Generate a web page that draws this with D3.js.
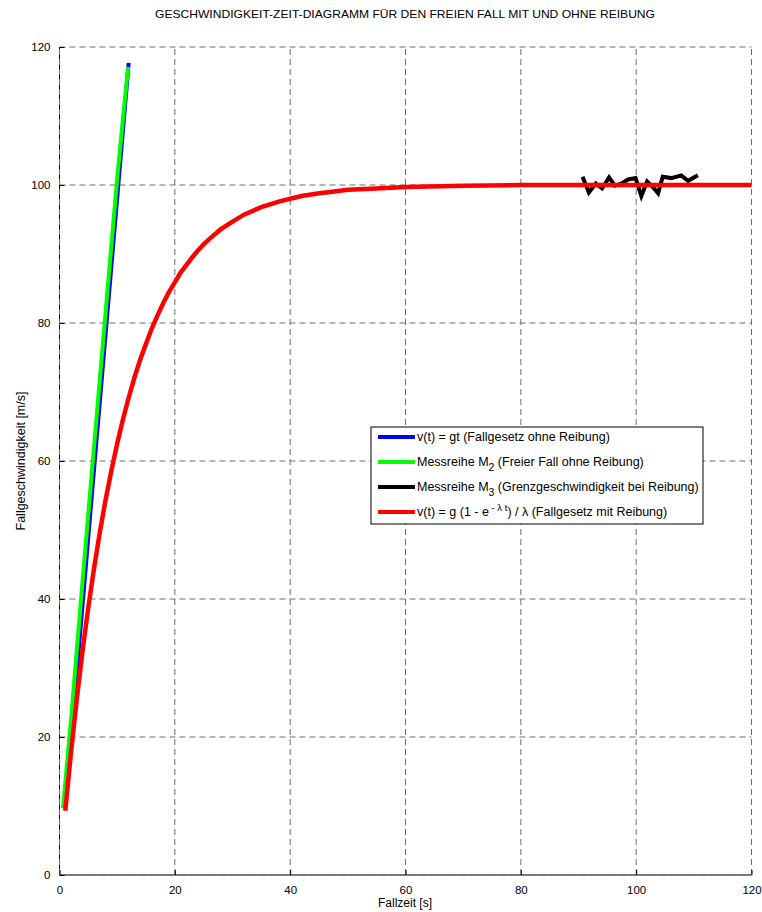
<!DOCTYPE html>
<html>
<head>
<meta charset="utf-8">
<script src="https://cdn.jsdelivr.net/npm/d3@7"></script>
<style>
    body { margin: 0; background: #fff; }
    svg text { font-family: "Liberation Sans", Arial, Helvetica, sans-serif; fill: #000; }
</style>
</head>
<body>
<div id="grafico"></div>
<script>
// Daten
const xTicks = [0, 20, 40, 60, 80, 100, 120];
const yTicks = [0, 20, 40, 60, 80, 100, 120];

// v(t) = g t
const tOhne = [1, 2, 3, 4, 5, 6, 7, 8, 9, 10, 11, 12];
const vOhne = [9.8, 19.6, 29.4, 39.2, 49.1, 58.9, 68.7, 78.5, 88.3, 98.1, 107.9, 117.7];

// Messreihe M2
const tM2 = [0.6, 2, 3, 4, 5, 6, 7, 8, 9, 10, 11, 11.9];
const vM2 = [9.7, 22.5, 32.6, 42.6, 52.4, 62.2, 71.9, 81.6, 91.3, 100.9, 109.6, 117.1];

// Messreihe M3
const tM3 = [90.7, 91.8, 93.0, 94.1, 95.3, 96.3, 97.4, 98.6, 99.9, 100.9, 101.9, 102.9, 103.8, 104.6, 106.1, 107.8, 109.0, 110.7];
const vM3 = [101.2, 98.9, 100.2, 99.5, 101.1, 99.9, 100.2, 100.8, 101.0, 98.4, 100.5, 99.7, 98.8, 101.2, 101.0, 101.4, 100.6, 101.4];

// v(t) = g (1 - e^(-lambda t)) / lambda
const tMit = [1, 2, 3, 4, 5, 6, 7, 8, 9, 10, 11, 12, 13, 14, 15, 16, 17, 18, 19, 20, 21, 22, 23, 24, 25, 26, 28, 30, 32, 35, 38, 40, 42, 45, 47, 50, 55, 60, 70, 80, 90, 100, 110, 120];
const vMit = [9.3, 17.8, 25.5, 32.5, 38.8, 44.5, 49.7, 54.4, 58.6, 62.5, 66.0, 69.2, 72.1, 74.7, 77.0, 79.2, 81.1, 82.9, 84.5, 85.9, 87.3, 88.4, 89.5, 90.5, 91.4, 92.2, 93.6, 94.7, 95.7, 96.8, 97.6, 98.0, 98.4, 98.8, 99.0, 99.3, 99.5, 99.7, 99.9, 100, 100, 100, 100, 100];

const legendLabels = [
    "v(t) = gt (Fallgesetz ohne Reibung)",
    "Messreihe M",
    "Messreihe M",
    "v(t) = g (1 - e"
];
const colors = ["#0000ff", "#00ff00", "#000000", "#ff0000"];

const width = 762, height = 912;
const svg = d3.select("#grafico").append("svg")
    .attr("width", width)
    .attr("height", height);

const x = d3.scaleLinear().domain([0, 120]).range([59.5, 751.5]);
const y = d3.scaleLinear().domain([0, 120]).range([875, 47]);

// Titel
svg.append("text")
    .attr("x", 405)
    .attr("y", 18)
    .attr("text-anchor", "middle")
    .attr("font-size", 11)
    .attr("textLength", 500)
    .attr("lengthAdjust", "spacingAndGlyphs")
    .text("GESCHWINDIGKEIT-ZEIT-DIAGRAMM FÜR DEN FREIEN FALL MIT UND OHNE REIBUNG");

// Achsen (links und unten)
svg.append("line")
    .attr("x1", x(0)).attr("x2", x(0))
    .attr("y1", y(0)).attr("y2", y(120))
    .attr("stroke", "#000").attr("stroke-width", 1);
svg.append("line")
    .attr("x1", x(0)).attr("x2", x(120))
    .attr("y1", y(0)).attr("y2", y(0))
    .attr("stroke", "#000").attr("stroke-width", 1);

// Gitter
svg.selectAll(".gridx")
    .data(xTicks)
    .enter()
    .append("line")
    .attr("x1", d => x(d)).attr("x2", d => x(d))
    .attr("y1", y(0)).attr("y2", y(120))
    .attr("stroke", "#6e6e6e")
    .attr("stroke-width", 1)
    .attr("stroke-dasharray", "6,4");

svg.selectAll(".gridy")
    .data(yTicks)
    .enter()
    .append("line")
    .attr("x1", x(0)).attr("x2", x(120))
    .attr("y1", d => y(d)).attr("y2", d => y(d))
    .attr("stroke", "#6e6e6e")
    .attr("stroke-width", 1)
    .attr("stroke-dasharray", "6,4");

// Achsenbeschriftung mit Ticks nach innen
const xAxis = svg.append("g")
    .attr("transform", `translate(0,${y(0)})`)
    .call(d3.axisBottom(x).tickValues(xTicks).tickSize(-5).tickPadding(11));
const yAxis = svg.append("g")
    .attr("transform", `translate(${x(0)},0)`)
    .call(d3.axisLeft(y).tickValues(yTicks).tickSize(-5).tickPadding(9));
[xAxis, yAxis].forEach(g => {
    g.select(".domain").remove();
    g.selectAll("line").attr("stroke", "#000");
    g.selectAll("text")
        .attr("font-size", 11.5)
        .attr("font-family", "Liberation Sans, Arial, sans-serif")
        .attr("fill", "#000");
});

svg.append("text")
    .attr("x", 405)
    .attr("y", 907)
    .attr("text-anchor", "middle")
    .attr("font-size", 12)
    .text("Fallzeit [s]");

svg.append("text")
    .attr("transform", "translate(25,461) rotate(-90)")
    .attr("text-anchor", "middle")
    .attr("font-size", 12.5)
    .text("Fallgeschwindigkeit [m/s]");

// Kurven
const line = d3.line()
    .x(d => x(d[0]))
    .y(d => y(d[1]));

const reihen = [
    d3.zip(tOhne, vOhne),
    d3.zip(tM2, vM2),
    d3.zip(tM3, vM3),
    d3.zip(tMit, vMit)
];

svg.selectAll(".kurve")
    .data(reihen)
    .enter()
    .append("path")
    .attr("class", "kurve")
    .attr("d", line)
    .attr("fill", "none")
    .attr("stroke", (d, i) => colors[i])
    .attr("stroke-width", (d, i) => i === 3 ? 4.5 : 4)
    .attr("stroke-linejoin", "miter");

// Legende
const legend = svg.append("g").attr("transform", "translate(371,427)");
legend.append("rect")
    .attr("width", 332)
    .attr("height", 97)
    .attr("fill", "#fff")
    .attr("stroke", "#000")
    .attr("stroke-width", 1);

const rowY = [10, 35, 60, 85];
legendLabels.forEach((label, i) => {
    legend.append("line")
        .attr("x1", 7).attr("x2", 44)
        .attr("y1", rowY[i]).attr("y2", rowY[i])
        .attr("stroke", colors[i])
        .attr("stroke-width", 4);
    const t = legend.append("text")
        .attr("x", 46)
        .attr("y", rowY[i] + 4)
        .attr("font-size", 12.5);
    t.append("tspan").text(label);
    if (i === 1 || i === 2) {
        t.append("tspan").attr("dy", 5).attr("font-size", 10.5).text(i === 1 ? "2" : "3");
        t.append("tspan").attr("dy", -5).text(i === 1 ? " (Freier Fall ohne Reibung)" : " (Grenzgeschwindigkeit bei Reibung)");
    }
    if (i === 3) {
        t.append("tspan").attr("dy", -5).attr("font-size", 9.5).text(" - λ t");
        t.append("tspan").attr("dy", 5).text(") / λ (Fallgesetz mit Reibung)");
    }
});
</script>
</body>
</html>
